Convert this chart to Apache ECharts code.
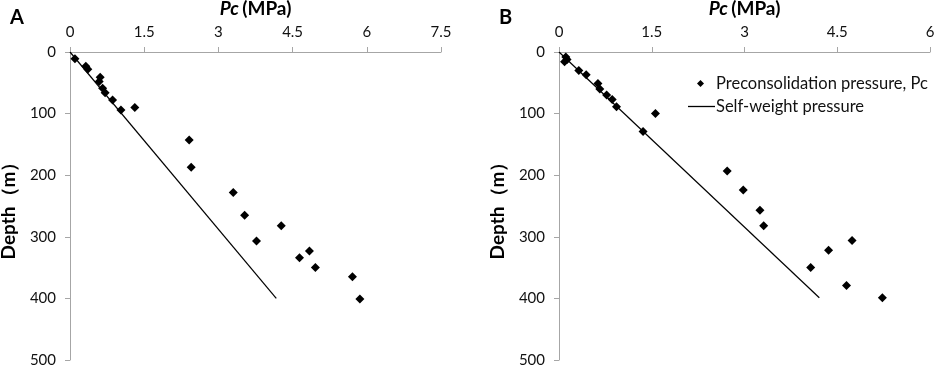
<!DOCTYPE html>
<html>
<head>
<meta charset="utf-8">
<script src="https://cdn.jsdelivr.net/npm/echarts@6/dist/echarts.min.js"></script>
<style>
  html, body { margin: 0; padding: 0; background: #fff; }
  #chart { width: 941px; height: 367px; }
</style>
</head>
<body>
<div id="chart"></div>
<script>
// panel A: preconsolidation pressure (MPa) vs depth (m)
var aPc = [0.10, 0.32, 0.36, 0.61, 0.59, 0.66, 0.71, 0.86, 1.03, 1.31, 2.41, 2.45, 3.30, 3.53, 3.77, 4.27, 4.64, 4.84, 4.96, 5.71, 5.86];
var aDepth = [11, 23, 28, 41, 48, 59, 66, 78, 94, 90, 143, 187, 228, 265, 307, 282, 334, 323, 350, 365, 401];
var aLinePc = [0, 4.17];
var aLineDepth = [0, 400];

// panel B
var bPc = [0.11, 0.13, 0.09, 0.32, 0.44, 0.63, 0.66, 0.77, 0.86, 0.93, 1.56, 1.36, 2.72, 2.98, 3.25, 3.31, 4.74, 4.36, 4.07, 4.65, 5.23];
var bDepth = [8, 12, 16, 30, 37, 51, 60, 70, 77, 89, 100, 129, 193, 224, 257, 282, 306, 322, 350, 379, 399];
var bLinePc = [0, 4.21];
var bLineDepth = [0, 399];

var xMaxA = 7.5, xMaxB = 6, xStep = 1.5;
var depthMax = 500, depthStep = 100;

function pairs(xs, ys) {
  return xs.map(function (x, i) { return [x, ys[i]]; });
}

var font = 'Lato';
var axisGray = '#a6a6a6';

function xAxis(idx, max) {
  return {
    gridIndex: idx, type: 'value', position: 'top',
    min: 0, max: max, interval: xStep,
    name: '{i|Pc} {b|(MPa)}', nameLocation: 'middle', nameGap: 34,
    nameTextStyle: {
      rich: {
        i: { fontFamily: font, fontSize: 19, fontWeight: 'bold', fontStyle: 'italic', color: '#000' },
        b: { fontFamily: font, fontSize: 19, fontWeight: 'bold', color: '#000' }
      }
    },
    axisLine: { show: true, lineStyle: { color: axisGray, width: 1 } },
    axisTick: { show: true, inside: false, length: 5, lineStyle: { color: axisGray } },
    axisLabel: { fontFamily: font, fontSize: 15, color: '#111', margin: 12 },
    splitLine: { show: false }
  };
}

function yAxis(idx) {
  return {
    gridIndex: idx, type: 'value', inverse: true,
    min: 0, max: depthMax, interval: depthStep,
    name: 'Depth（m）', nameLocation: 'middle', nameGap: 52,
    nameTextStyle: { fontFamily: font, fontSize: 19, fontWeight: 'bold', color: '#000' },
    axisLine: { show: true, lineStyle: { color: axisGray, width: 1 } },
    axisTick: { show: true, length: 5, lineStyle: { color: axisGray } },
    axisLabel: { fontFamily: font, fontSize: 15, color: '#111', margin: 14 },
    splitLine: { show: false }
  };
}

var chart = echarts.init(document.getElementById('chart'), null, { renderer: 'canvas' });

var option = {
  backgroundColor: '#fff',
  animation: false,
  title: [
    { text: 'A', left: 5, top: 3, textStyle: { fontFamily: font, fontSize: 20, fontWeight: 'bold', color: '#000' } },
    { text: 'B', left: 494, top: 3, textStyle: { fontFamily: font, fontSize: 20, fontWeight: 'bold', color: '#000' } }
  ],
  grid: [
    { left: 70, right: 500, top: 52, bottom: 7, outerBoundsMode: 'none', containLabel: false },
    { left: 559, right: 11, top: 52, bottom: 7, outerBoundsMode: 'none', containLabel: false }
  ],
  xAxis: [xAxis(0, xMaxA), xAxis(1, xMaxB)],
  yAxis: [yAxis(0), yAxis(1)],
  legend: [
    {
      data: [{ name: 'Preconsolidation pressure, Pc', icon: 'diamond' }],
      left: 692, top: 70, itemWidth: 7, itemHeight: 7, itemGap: 0,
      itemStyle: { color: '#000', opacity: 1 },
      textStyle: { fontFamily: font, fontSize: 16.5, color: '#111', padding: [0, 0, 0, 7] }
    },
    {
      data: [{ name: 'Self-weight pressure', icon: 'rect' }],
      left: 683, top: 93, itemWidth: 27, itemHeight: 1.3,
      itemStyle: { color: '#000' },
      textStyle: { fontFamily: font, fontSize: 16.5, color: '#111', padding: [0, 0, 0, -4] }
    }
  ],
  series: [
    {
      name: 'Preconsolidation pressure, Pc', type: 'scatter',
      xAxisIndex: 0, yAxisIndex: 0,
      symbol: 'diamond', symbolSize: 9,
      itemStyle: { color: '#000', opacity: 1 },
      data: pairs(aPc, aDepth)
    },
    {
      name: 'Self-weight pressure', type: 'line',
      xAxisIndex: 0, yAxisIndex: 0,
      symbol: 'none', lineStyle: { color: '#000', width: 1.2 },
      itemStyle: { color: '#000' },
      data: pairs(aLinePc, aLineDepth)
    },
    {
      name: 'Preconsolidation pressure, Pc', type: 'scatter',
      xAxisIndex: 1, yAxisIndex: 1,
      symbol: 'diamond', symbolSize: 9,
      itemStyle: { color: '#000', opacity: 1 },
      data: pairs(bPc, bDepth)
    },
    {
      name: 'Self-weight pressure', type: 'line',
      xAxisIndex: 1, yAxisIndex: 1,
      symbol: 'none', lineStyle: { color: '#000', width: 1.2 },
      itemStyle: { color: '#000' },
      data: pairs(bLinePc, bLineDepth)
    }
  ]
};

chart.setOption(option);
</script>
</body>
</html>
